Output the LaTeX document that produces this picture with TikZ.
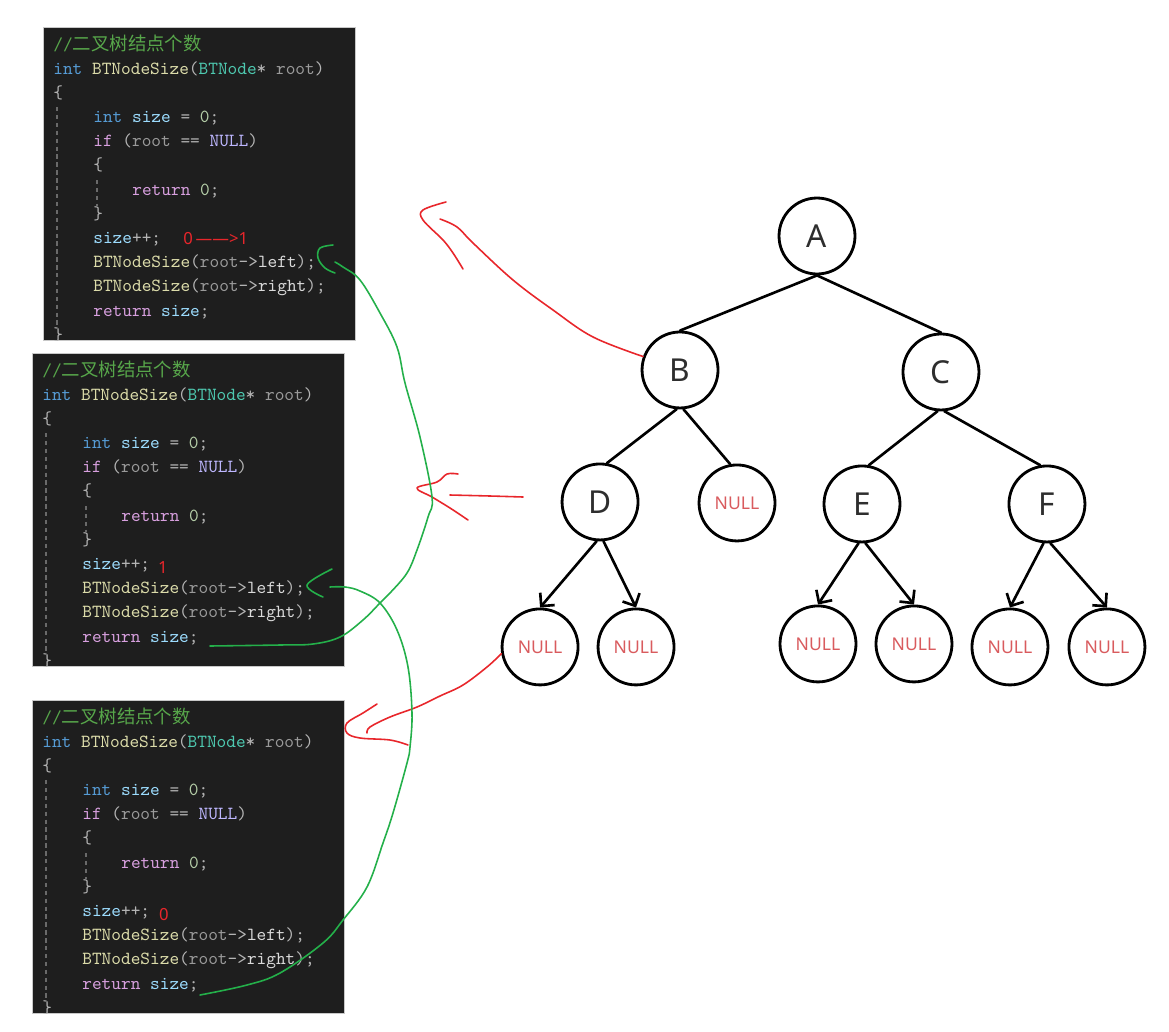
\documentclass[tikz,border=0pt]{standalone}
\usepackage{fontspec}
\usepackage{tikz}
\usetikzlibrary{arrows.meta,positioning,calc}
\newfontfamily\cjkfont{Noto Sans CJK SC}
\newfontfamily\treefont{Noto Sans}
\definecolor{CodeBg}{HTML}{1E1E1E}
\definecolor{BoxEdge}{HTML}{C8C8C8}
\definecolor{CodeCmt}{HTML}{57A64A}
\definecolor{CodeKey}{HTML}{569CD6}
\definecolor{CodeFun}{HTML}{DCDCAA}
\definecolor{CodeType}{HTML}{4EC9B0}
\definecolor{CodeParam}{HTML}{9A9A9A}
\definecolor{CodeVar}{HTML}{9CDCFE}
\definecolor{CodeNum}{HTML}{B5CEA8}
\definecolor{CodeCtl}{HTML}{D8A0DF}
\definecolor{CodeMacro}{HTML}{BEB7FF}
\definecolor{CodePunct}{HTML}{B4B4B4}
\definecolor{CodeMember}{HTML}{DADADA}
\definecolor{GuideGray}{HTML}{6A6A6A}
\definecolor{LetterGray}{HTML}{2E2E2E}
\definecolor{NullRed}{HTML}{D95B5E}
\definecolor{InkRed}{HTML}{E8262B}
\definecolor{InkGreen}{HTML}{24B04A}
\tikzset{
  codebox/.style={draw=BoxEdge, fill=CodeBg, line width=0.5pt, anchor=north west, inner sep=0pt, minimum width=6.24cm, minimum height=6.26cm},
  codeline/.style={anchor=west, inner sep=0pt, text height=7pt, text depth=2.5pt, text=CodePunct, font=\ttfamily\fontsize{10.5}{12}\selectfont},
  guide/.style={draw=GuideGray, line width=0.6pt, dash pattern=on 2.5pt off 2pt},
  treenode/.style={circle, draw, line width=1.6pt, minimum size=1.52cm, inner sep=0pt, on grid, text=LetterGray, font=\treefont\fontsize{18}{20}\selectfont},
  nullnode/.style={treenode, text=NullRed, font=\treefont\fontsize{10}{12}\selectfont},
  edge/.style={line width=1.5pt, line cap=round},
  childarrow/.style={edge, -{Straight Barb[length=1.9mm, width=3.8mm]}},
  redink/.style={draw=InkRed, line width=0.9pt, line cap=round, line join=round},
  greenink/.style={draw=InkGreen, line width=0.9pt, line cap=round, line join=round},
  countmark/.style={inner sep=0pt, text=InkRed, font=\treefont\fontsize{9.5}{10}\selectfont}
}
% one code listing, top left corner at (#2,#3)
\newcommand{\sizelisting}[3]{%
  \begin{scope}[shift={(#2,#3)}]
    \node[codebox] (#1) at (0,0) {};
    \begin{scope}
      \clip (0,0) rectangle (312,313);
      \node[codeline] at (10,20) {\color{CodeCmt}//{\cjkfont 二叉树结点个数}};
      \node[codeline] at (10,43.2) {\textcolor{CodeKey}{int} \textcolor{CodeFun}{BTNodeSize}(\textcolor{CodeType}{BTNode}* \textcolor{CodeParam}{root})};
      \node[codeline] at (10,67.4) {\{};
      \node[codeline] at (50,91.6) {\textcolor{CodeKey}{int} \textcolor{CodeVar}{size} = \textcolor{CodeNum}{0};};
      \node[codeline] at (50,115.8) {\textcolor{CodeCtl}{if} (\textcolor{CodeParam}{root} == \textcolor{CodeMacro}{NULL})};
      \node[codeline] at (50,140) {\{};
      \node[codeline] at (89,164.2) {\textcolor{CodeCtl}{return} \textcolor{CodeNum}{0};};
      \node[codeline] at (50,188.4) {\}};
      \node[codeline] at (50,212.6) {\textcolor{CodeVar}{size}++;};
      \node[codeline] at (50,236.8) {\textcolor{CodeFun}{BTNodeSize}(\textcolor{CodeParam}{root}->\textcolor{CodeMember}{left});};
      \node[codeline] at (50,261) {\textcolor{CodeFun}{BTNodeSize}(\textcolor{CodeParam}{root}->\textcolor{CodeMember}{right});};
      \node[codeline] at (50,285.2) {\textcolor{CodeCtl}{return} \textcolor{CodeVar}{size};};
      \node[codeline] at (10,309.4) {\}};
      \draw[guide] (14,80) -- (14,302);
      \draw[guide] (54,153) -- (54,179);
    \end{scope}
  \end{scope}}

\begin{document}
\begin{tikzpicture}[x=0.02cm, y=-0.02cm]
  \fill[white] (0,0) rectangle (1169,1031);
  \useasboundingbox (0,0) rectangle (1169,1031);

  % code listings
  \sizelisting{code1}{43}{27}
  \sizelisting{code2}{32}{353}
  \sizelisting{code3}{32}{700}
  \node[countmark, anchor=west] (cnt1) at (183,239) {0\,——>1};
  \node[countmark] (cnt2) at (163,568) {1};
  \node[countmark] (cnt3) at (164,915) {0};

  % tree
  \node[treenode] (A) at (817,236) {A};
  \node[treenode, below left=2.68cm and 2.74cm of A] (B) {B};
  \node[treenode, below right=2.72cm and 2.48cm of A] (C) {C};
  \node[treenode, below left=2.64cm and 1.6cm of B] (D) {D};
  \node[nullnode, below right=2.66cm and 1.14cm of B] (nB) {NULL};
  \node[treenode, below left=2.64cm and 1.58cm of C] (E) {E};
  \node[treenode, below right=2.64cm and 2.12cm of C] (F) {F};
  \node[nullnode, below left=2.9cm and 1.2cm of D] (nD1) {NULL};
  \node[nullnode, below right=2.9cm and 0.72cm of D] (nD2) {NULL};
  \node[nullnode, below left=2.8cm and 0.88cm of E] (nE1) {NULL};
  \node[nullnode, below right=2.8cm and 1.04cm of E] (nE2) {NULL};
  \node[nullnode, below left=2.86cm and 0.74cm of F] (nF1) {NULL};
  \node[nullnode, below right=2.86cm and 1.2cm of F] (nF2) {NULL};

  \draw[edge] (A.south) -- (B.north);
  \draw[edge] (A.south) -- (C.north);
  \draw[edge] (B.-95) -- (D.80);
  \draw[edge] (B.-85) -- (nB.100);
  \draw[edge] (C.-95) -- (E.80);
  \draw[edge] (C.-85) -- (F.100);
  \draw[childarrow] (D.-95) -- (nD1.north);
  \draw[childarrow] (D.-85) -- (nD2.north);
  \draw[childarrow] (E.-95) -- (nE1.north);
  \draw[childarrow] (E.-85) -- (nE2.north);
  \draw[childarrow] (F.-95) -- (nF1.north);
  \draw[childarrow] (F.-85) -- (nF2.north);

  % red strokes: node -> listing
  \draw[redink] plot[smooth, tension=0.6] coordinates {(B.160) (593,337) (553,310) (513,280) (473,243) (457,227) (440,219)};
  \draw[redink] plot[smooth, tension=0.6] coordinates {(446,202) (423,210) (423,220) (443,240) (453,253) (463,269)};
  \draw[redink] plot[smooth, tension=0.6] coordinates {(523,497) (490,496) (450,495)};
  \draw[redink] plot[smooth, tension=0.6] coordinates {(458,474) (447,474) (437,482) (417,488) (432,497) (450,508) (468,520)};
  \draw[redink] plot[smooth, tension=0.6] coordinates {(nD1.190) (487,667) (463,685) (440,696) (417,707) (390,717) (370,727) (367,733)};
  \draw[redink] plot[smooth, tension=0.6] coordinates {(377,704) (363,713) (347,723) (347,733) (360,738) (390,740) (408,745)};

  % green strokes: return -> caller
  \draw[greenink] plot[smooth, tension=0.6] coordinates {(333,245) (320,248) (318,258) (325,268) (335,273)};
  \draw[greenink] plot[smooth, tension=0.6] coordinates {(335,262) (343,267) (360,280) (380,313) (397,347) (405,383) (420,437) (432,497) (428,517) (417,550) (407,573) (390,593) (380,603) (363,620) (340,637) (313,644) (280,645) (210,646)};
  \draw[greenink] plot[smooth, tension=0.6] coordinates {(332,569) (307,585) (323,597)};
  \draw[greenink] plot[smooth, tension=0.6] coordinates {(330,587) (345,587) (360,591) (380,603) (397,630) (408,667) (412,713) (410,747) (407,763) (393,813) (383,843) (367,887) (343,920) (323,943) (280,973) (247,985) (200,995)};
\end{tikzpicture}
\end{document}
